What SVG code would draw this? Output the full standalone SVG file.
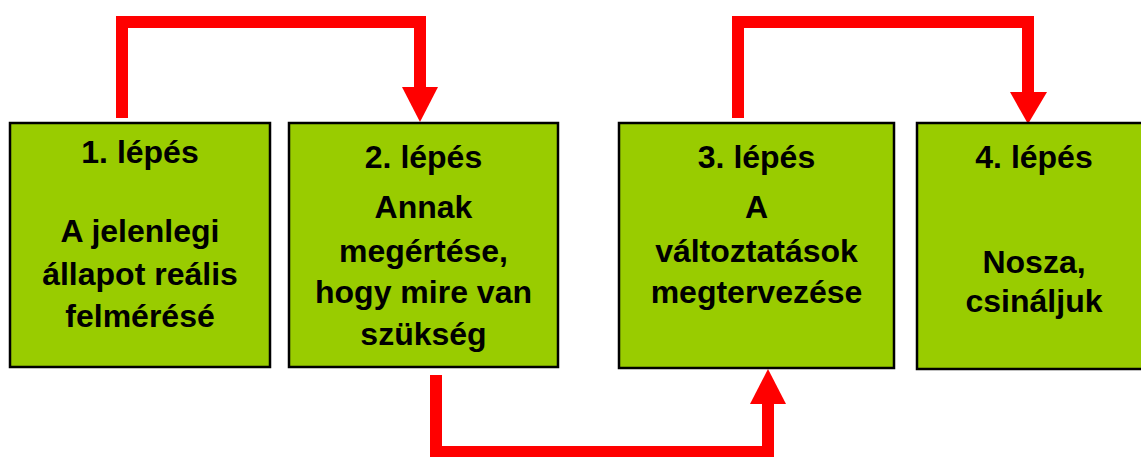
<svg xmlns="http://www.w3.org/2000/svg" width="1141" height="457" viewBox="0 0 1141 457">
<style>
.box{fill:#99CC00;stroke:#000;stroke-width:2.5}
.t{font-family:"Liberation Sans",Arial,sans-serif;font-weight:bold;font-size:32px;fill:#000;text-anchor:middle}
.c{fill:none;stroke:#FF0000;stroke-width:12;stroke-linejoin:miter;stroke-linecap:butt}
.h{fill:#FF0000}
</style>
<rect width="1141" height="457" fill="#fff"/>
<g id="connectors">
<polyline class="c" points="122,118 122,22 420,22 420,88"/>
<polygon class="h" points="402,87 438,87 420,122"/>
<polyline class="c" points="738,118 738,22 1028,22 1028,93"/>
<polygon class="h" points="1010,92 1047,92 1028,124"/>
<polyline class="c" points="436,375 436,452 768,452 768,403"/>
<polygon class="h" points="750,404 786,404 768,369"/>
</g>
<g id="step1">
<rect class="box" x="10" y="123" width="260" height="244"/>
<text class="t" x="140" y="163">1. lépés</text>
<text class="t" x="140" y="242">A jelenlegi</text>
<text class="t" x="140" y="285">állapot reális</text>
<text class="t" x="140" y="327">felmérésé</text>
</g>
<g id="step2">
<rect class="box" x="289" y="123" width="269" height="244"/>
<text class="t" x="423.5" y="168">2. lépés</text>
<text class="t" x="423.5" y="218">Annak</text>
<text class="t" x="423.5" y="262">megértése,</text>
<text class="t" x="423.5" y="303">hogy mire van</text>
<text class="t" x="423.5" y="345">szükség</text>
</g>
<g id="step3">
<rect class="box" x="619" y="123" width="275" height="245"/>
<text class="t" x="756.5" y="168">3. lépés</text>
<text class="t" x="756.5" y="218">A</text>
<text class="t" x="756.5" y="262">változtatások</text>
<text class="t" x="756.5" y="303">megtervezése</text>
</g>
<g id="step4">
<rect class="box" x="917" y="123" width="240" height="246"/>
<text class="t" x="1034" y="168">4. lépés</text>
<text class="t" x="1034" y="273">Nosza,</text>
<text class="t" x="1034" y="312">csináljuk</text>
</g>
</svg>
